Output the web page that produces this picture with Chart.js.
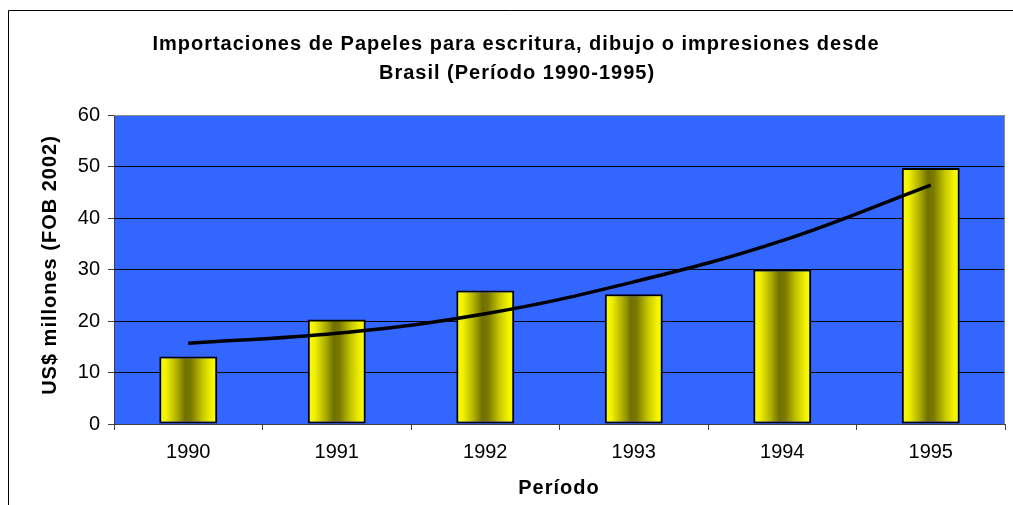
<!DOCTYPE html>
<html>
<head>
<meta charset="utf-8">
<script src="https://cdn.jsdelivr.net/npm/chart.js@4.4.1/dist/chart.umd.min.js"></script>
<style>
    html, body { margin: 0; padding: 0; background: #ffffff; }
    #wrap { width: 1013px; height: 505px; position: relative; }
</style>
</head>
<body>
<div id="wrap"><canvas id="chart" width="1013" height="505"></canvas></div>
<script>
// Chart data
const years = ['1990', '1991', '1992', '1993', '1994', '1995'];
const importValues = [13.1, 20.3, 25.9, 25.2, 30.0, 49.7];
const trendValues = [15.7, 17.6, 21.4, 27.6, 35.6, 46.4];
const yTicks = [0, 10, 20, 30, 40, 50, 60];

const titleLines = ['Importaciones de Papeles para escritura, dibujo o impresiones desde', 'Brasil (Período 1990-1995)'];
const yTitle = 'US$ millones (FOB 2002)';
const xTitle = 'Período';

const BAR_PCT = 0.39;

// gradient for each bar, built from the scale position
function barGradient(context) {
    const chart = context.chart;
    const xScale = chart.scales.x;
    if (!xScale || !chart.chartArea) return '#ffff00';
    const center = xScale.getPixelForValue(context.dataIndex);
    const catWidth = chart.chartArea.width / years.length;
    const half = catWidth * BAR_PCT / 2;
    const g = chart.ctx.createLinearGradient(center - half, 0, center + half, 0);
    g.addColorStop(0, '#ffff00');
    g.addColorStop(0.12, '#f0f000');
    g.addColorStop(0.3, '#b0b000');
    g.addColorStop(0.45, '#707000');
    g.addColorStop(0.55, '#7a7a00');
    g.addColorStop(0.75, '#c8c800');
    g.addColorStop(0.9, '#f2f200');
    g.addColorStop(1, '#ffff00');
    return g;
}

// background, frame and text
const decorPlugin = {
    id: 'decor',
    beforeDraw(chart) {
        const { ctx, chartArea: a } = chart;
        ctx.save();
        ctx.fillStyle = '#3366ff';
        ctx.fillRect(a.left, a.top, a.right - a.left, a.bottom - a.top);
        // outer frame
        ctx.strokeStyle = '#000000';
        ctx.lineWidth = 1;
        ctx.beginPath();
        ctx.moveTo(8.5, 505);
        ctx.lineTo(8.5, 10.5);
        ctx.lineTo(1013, 10.5);
        ctx.stroke();
        ctx.restore();
    },
    afterDatasetsDraw(chart) {
        const { ctx, chartArea: a } = chart;
        ctx.save();
        // plot border (top and right)
        ctx.strokeStyle = '#8c8c8c';
        ctx.lineWidth = 1;
        ctx.beginPath();
        ctx.moveTo(a.left, a.top + 0.5);
        ctx.lineTo(a.right - 0.5, a.top + 0.5);
        ctx.lineTo(a.right - 0.5, a.bottom);
        ctx.stroke();

        ctx.fillStyle = '#000000';
        ctx.textAlign = 'center';
        ctx.textBaseline = 'middle';
        ctx.font = 'bold 20px "Liberation Sans", Arial, sans-serif';
        ctx.letterSpacing = '1px';
        ctx.fillText(titleLines[0], 516, 44);
        ctx.fillText(titleLines[1], 517, 73);

        ctx.fillText(xTitle, 559, 488);

        ctx.translate(50, 265);
        ctx.rotate(-Math.PI / 2);
        ctx.fillText(yTitle, 0, 0);
        ctx.restore();
    }
};

const ctx = document.getElementById('chart').getContext('2d');
new Chart(ctx, {
    data: {
        labels: years,
        datasets: [
            {
                type: 'line',
                label: 'Tendencia',
                data: trendValues,
                borderColor: '#000000',
                borderWidth: 3.5,
                pointRadius: 0,
                tension: 0.4,
                fill: false,
                order: 0
            },
            {
                type: 'bar',
                label: 'Importaciones',
                data: importValues,
                backgroundColor: barGradient,
                borderColor: '#000000',
                borderWidth: 2,
                borderSkipped: false,
                categoryPercentage: 1,
                barPercentage: BAR_PCT,
                order: 1
            }
        ]
    },
    options: {
        responsive: false,
        animation: false,
        layout: { padding: { top: 115, right: 8, left: 0, bottom: 0 } },
        plugins: {
            legend: { display: false },
            title: { display: false },
            tooltip: { enabled: false }
        },
        scales: {
            x: {
                offset: true,
                afterFit(scale) { scale.height = 81; },
                grid: {
                    offset: true,
                    drawOnChartArea: false,
                    drawTicks: true,
                    tickLength: 6,
                    tickColor: '#404040'
                },
                border: { display: true, color: '#404040', width: 1 },
                ticks: {
                    color: '#000000',
                    padding: 10,
                    font: { family: '"Liberation Sans", Arial, sans-serif', size: 20 }
                }
            },
            y: {
                min: 0,
                max: 60,
                afterFit(scale) { scale.width = 114; },
                afterBuildTicks(scale) { scale.ticks = yTicks.map(v => ({ value: v })); },
                grid: {
                    color: (c) => (c.tick && c.tick.value === 60) ? 'rgba(0,0,0,0)' : '#000000',
                    lineWidth: 1,
                    tickLength: 6,
                    tickColor: '#404040'
                },
                border: { display: true, color: '#404040', width: 1 },
                ticks: {
                    color: '#000000',
                    padding: 8,
                    font: { family: '"Liberation Sans", Arial, sans-serif', size: 20 }
                }
            }
        }
    },
    plugins: [decorPlugin]
});
</script>
</body>
</html>
